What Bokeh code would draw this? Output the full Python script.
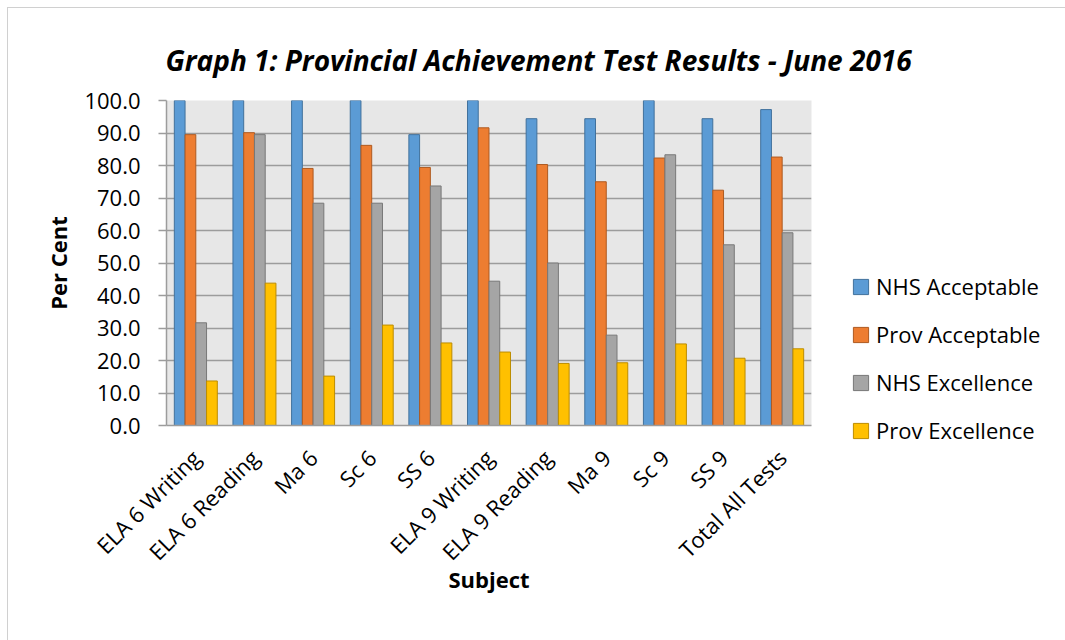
from math import pi
from bokeh.plotting import figure
from bokeh.models import (ColumnDataSource, FactorRange, Legend, LegendItem,
                          NumeralTickFormatter, FixedTicker, Title)
from bokeh.transform import dodge
from bokeh.embed import file_html
from bokeh.resources import INLINE

categories = ["ELA 6 Writing", "ELA 6 Reading", "Ma 6", "Sc 6", "SS 6",
              "ELA 9 Writing", "ELA 9 Reading", "Ma 9", "Sc 9", "SS 9",
              "Total All Tests"]
nhs_acceptable = [100.0, 100.0, 100.0, 100.0, 89.5, 100.0, 94.4, 94.4, 100.0, 94.4, 97.2]
prov_acceptable = [89.5, 90.1, 79.1, 86.2, 79.4, 91.6, 80.3, 75.0, 82.3, 72.4, 82.6]
nhs_excellence = [31.6, 89.5, 68.4, 68.4, 73.7, 44.4, 50.0, 27.8, 83.3, 55.6, 59.3]
prov_excellence = [13.7, 43.8, 15.2, 30.9, 25.4, 22.6, 19.1, 19.3, 25.1, 20.7, 23.6]
series_names = ["NHS Acceptable", "Prov Acceptable", "NHS Excellence", "Prov Excellence"]
y_ticks = [0, 10, 20, 30, 40, 50, 60, 70, 80, 90, 100]

src = ColumnDataSource(dict(cat=categories, a=nhs_acceptable, b=prov_acceptable,
                            c=nhs_excellence, d=prov_excellence))

FONT = "Open Sans"

p = figure(x_range=FactorRange(*categories, range_padding=0), y_range=(0, 100),
           width=1057, height=632, frame_width=645, frame_height=325,
           min_border_left=158, min_border_right=254, min_border_top=92, min_border_bottom=215,
           output_backend="svg", toolbar_location=None, title=None)
p.styles = {"border-left": "1px solid #D0D0D0", "border-top": "1px solid #D0D0D0",
            "margin-left": "7px", "margin-top": "7px"}

p.add_layout(Title(text="Graph 1: Provincial Achievement Test Results - June 2016",
                   text_font=FONT, text_font_size="28px", text_font_style="bold italic",
                   text_color="#000000", align="left", offset=-1, standoff=40,
                   vertical_align="top"), "above")

p.background_fill_color = "#E7E7E7"
p.border_fill_color = "white"
p.outline_line_color = None

fills = ["#5B9BD5", "#ED7D31", "#A5A5A5", "#FFC000"]
lines = ["#41719C", "#AE5A21", "#787878", "#BC8C00"]
cols = ["a", "b", "c", "d"]
offsets = [-0.275, -0.0917, 0.0917, 0.275]
renderers = []
for col, off, fc, lc in zip(cols, offsets, fills, lines):
    r = p.vbar(x=dodge("cat", off, range=p.x_range), top=col, width=0.183, source=src,
               fill_color=fc, line_color=lc, line_width=1)
    renderers.append(r)

# axes
p.xgrid.grid_line_color = None
p.ygrid.grid_line_color = "#9C9C9C"
p.ygrid.grid_line_width = 1.5
p.yaxis.ticker = FixedTicker(ticks=y_ticks)
p.yaxis.formatter = NumeralTickFormatter(format="0.0")
p.yaxis.minor_tick_line_color = None
p.yaxis.major_tick_out = 8
p.yaxis.major_tick_in = 0
p.yaxis.major_tick_line_color = "#9C9C9C"
p.yaxis.major_tick_line_width = 1.5
p.yaxis.axis_line_color = "#9C9C9C"
p.yaxis.axis_line_width = 1.5
p.yaxis.major_label_text_font = FONT
p.yaxis.major_label_text_font_size = "22px"
p.yaxis.major_label_text_color = "#000000"
p.yaxis.major_label_standoff = 18
p.yaxis.axis_label = "Per Cent"
p.yaxis.axis_label_text_font = FONT
p.yaxis.axis_label_text_font_size = "22px"
p.yaxis.axis_label_text_font_style = "bold"
p.yaxis.axis_label_text_color = "#000000"
p.yaxis.axis_label_standoff = 8

p.xaxis.major_tick_line_color = None
p.xaxis.minor_tick_line_color = None
p.xaxis.axis_line_color = "#9C9C9C"
p.xaxis.axis_line_width = 1.5
p.xaxis.major_label_orientation = pi / 4
p.xaxis.major_label_text_font = FONT
p.xaxis.major_label_text_font_size = "22px"
p.xaxis.major_label_text_color = "#000000"
p.xaxis.major_label_standoff = 22
p.xaxis.axis_label = "Subject"
p.xaxis.axis_label_text_font = FONT
p.xaxis.axis_label_text_font_size = "22px"
p.xaxis.axis_label_text_font_style = "bold"
p.xaxis.axis_label_text_color = "#000000"
p.xaxis.axis_label_standoff = -16

legend = Legend(items=[LegendItem(label=n, renderers=[r]) for n, r in zip(series_names, renderers)],
                location=(40, -20), orientation="vertical",
                glyph_width=19, glyph_height=19, label_standoff=6, spacing=18,
                padding=0, margin=0, border_line_color=None, background_fill_alpha=0,
                label_text_font=FONT, label_text_font_size="22px", label_text_color="#000000")
p.add_layout(legend, "right")

open("out.html", "w").write(file_html(p, INLINE))
